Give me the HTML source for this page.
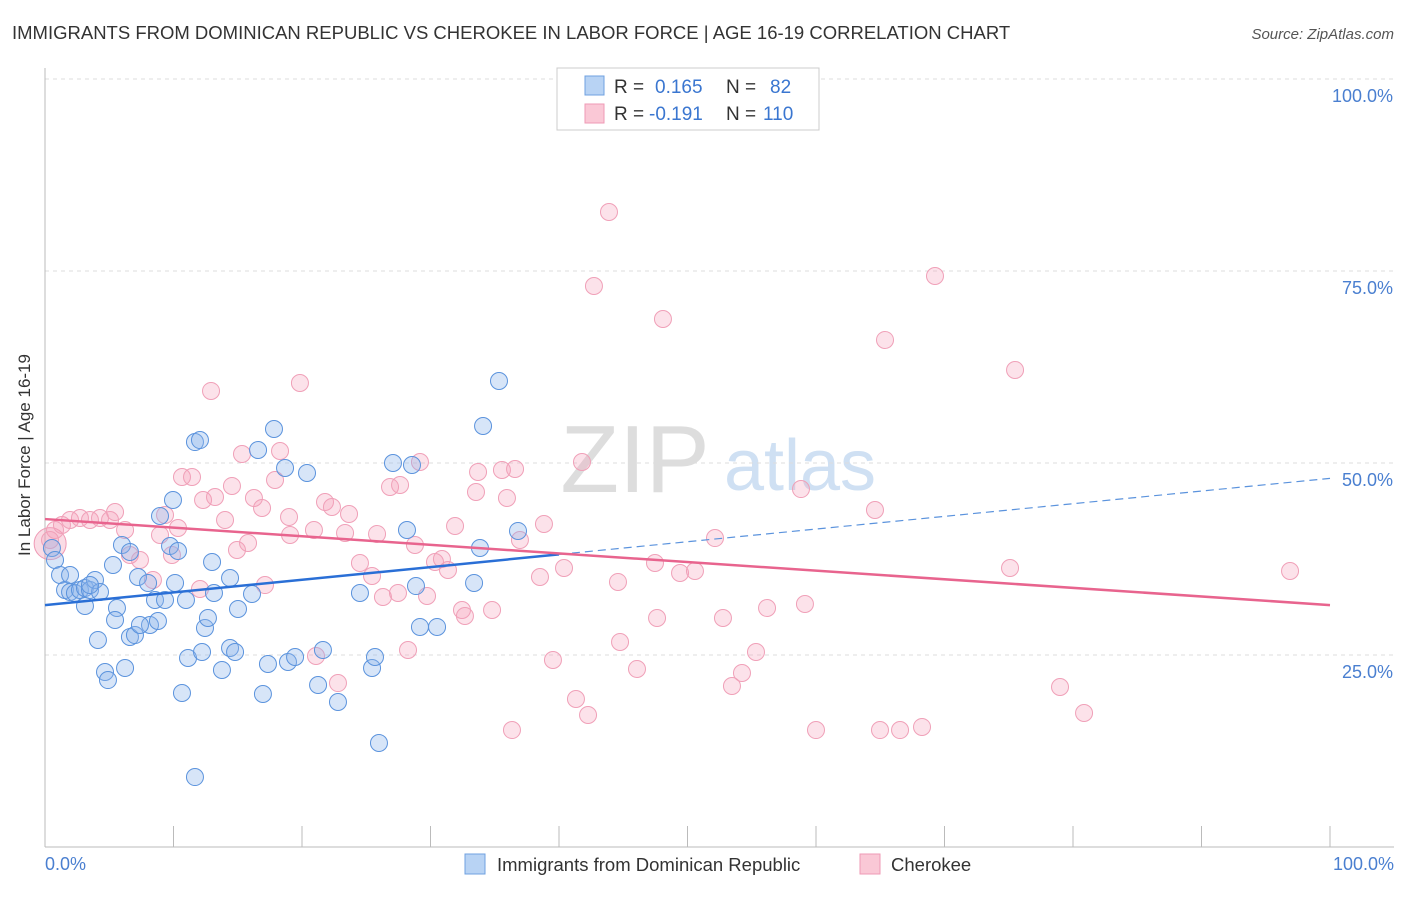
<!DOCTYPE html>
<html><head><meta charset="utf-8"><style>
body{margin:0;background:#fff;font-family:"Liberation Sans",sans-serif}
svg text{font-family:"Liberation Sans",sans-serif}
</style></head><body>
<svg id="c" width="1406" height="892">
<text x="12" y="39" font-size="18.5" fill="#333">IMMIGRANTS FROM DOMINICAN REPUBLIC VS CHEROKEE IN LABOR FORCE | AGE 16-19 CORRELATION CHART</text>
<text x="1394" y="39" font-size="15" fill="#555" font-style="italic" text-anchor="end">Source: ZipAtlas.com</text>
<text x="635" y="492" font-size="96" fill="#ddd" font-family="Liberation Serif" text-anchor="middle">ZIP</text>
<text x="800" y="490" font-size="72" fill="#cfe0f3" text-anchor="middle">atlas</text>
<g id="grid"></g><g id="pts"></g><g id="lines"></g>
<text x="30" y="455" font-size="17" fill="#333" text-anchor="middle" transform="rotate(-90 30 455)">In Labor Force | Age 16-19</text>
<text x="45" y="870" font-size="18" fill="#4a7fd0">0.0%</text>
<text x="1394" y="870" font-size="18" fill="#4a7fd0" text-anchor="end">100.0%</text>
<g>
<rect x="557" y="68" width="262" height="62" fill="#fff" stroke="#ccc"/>
<rect x="585" y="76" width="19" height="19" fill="#b8d3f4" stroke="#6fa0e0"/>
<rect x="585" y="104" width="19" height="19" fill="#fac8d6" stroke="#ef9ab5"/>
<text x="614" y="93" font-size="19" fill="#333">R =</text>
<text x="655" y="93" font-size="19" fill="#3a76d0">0.165</text>
<text x="726" y="93" font-size="19" fill="#333">N =</text>
<text x="770" y="93" font-size="19" fill="#3a76d0">82</text>
<text x="614" y="120" font-size="19" fill="#333">R =</text>
<text x="649" y="120" font-size="19" fill="#3a76d0">-0.191</text>
<text x="726" y="120" font-size="19" fill="#333">N =</text>
<text x="763" y="120" font-size="19" fill="#3a76d0">110</text>
</g>
<g>
<rect x="465" y="854" width="20" height="20" fill="#b8d3f4" stroke="#6fa0e0"/>
<text x="497" y="871" font-size="18.5" fill="#333">Immigrants from Dominican Republic</text>
<rect x="860" y="854" width="20" height="20" fill="#fac8d6" stroke="#ef9ab5"/>
<text x="891" y="871" font-size="18.5" fill="#333">Cherokee</text>
</g>
</svg>
<script>
const yTicks=[25,50,75,100];
const yTickLabels=["25.0%","50.0%","75.0%","100.0%"];
const bluePx=[[52,548],[55,560],[60,575],[65,590],[70,592],[75,593],[80,590],[85,588],[90,590],[95,580],[100,592],[85,606],[113,565],[117,608],[115,620],[122,545],[130,552],[98,640],[130,637],[135,635],[105,672],[108,680],[125,668],[138,577],[148,583],[150,625],[155,600],[158,621],[165,600],[160,516],[170,546],[173,500],[178,551],[175,583],[186,600],[182,693],[188,658],[195,442],[200,440],[202,652],[205,628],[208,618],[212,562],[214,593],[222,670],[230,578],[230,648],[235,652],[238,609],[252,594],[258,450],[263,694],[268,664],[274,429],[285,468],[288,662],[295,657],[307,473],[318,685],[323,650],[338,702],[360,593],[372,668],[375,657],[379,743],[393,463],[407,530],[412,465],[416,586],[420,627],[437,627],[480,548],[474,583],[483,426],[499,381],[518,531],[195,777],[70,575],[90,585],[140,625]];
const pinkPx=[[50,540],[55,530],[62,525],[70,520],[80,518],[90,520],[100,518],[110,520],[115,512],[125,530],[130,555],[140,560],[153,580],[160,535],[165,515],[172,555],[178,528],[182,477],[192,477],[200,589],[203,500],[211,391],[215,497],[225,520],[232,486],[237,550],[242,454],[248,543],[254,498],[262,508],[265,585],[275,480],[280,451],[289,517],[290,535],[300,383],[316,656],[314,530],[325,502],[332,507],[338,683],[345,533],[349,514],[360,563],[372,576],[377,534],[383,597],[390,487],[400,485],[398,593],[408,650],[415,545],[420,462],[427,596],[435,562],[442,559],[448,570],[455,526],[462,610],[465,616],[476,492],[478,472],[492,610],[502,470],[507,498],[515,469],[512,730],[520,540],[544,524],[540,577],[553,660],[564,568],[576,699],[582,462],[588,715],[594,286],[609,212],[618,582],[620,642],[637,669],[657,618],[655,563],[663,319],[680,573],[695,571],[715,538],[723,618],[732,686],[742,673],[756,652],[767,608],[801,489],[805,604],[816,730],[875,510],[880,730],[885,340],[900,730],[922,727],[935,276],[1010,568],[1015,370],[1060,687],[1084,713],[1290,571]];
const blueX=bluePx.map(p=>+((p[0]-45)/12.85).toFixed(2));
const blueY=bluePx.map(p=>+((847-p[1])/7.68).toFixed(2));
const pinkX=pinkPx.map(p=>+((p[0]-45)/12.85).toFixed(2));
const pinkY=pinkPx.map(p=>+((847-p[1])/7.68).toFixed(2));
const blueTrend=[31.5,38.1,48.0];
const pinkTrend=[42.7,31.5];
const X=v=>45+v*12.85, Y=v=>847-v*7.68;
const NS="http://www.w3.org/2000/svg";
function mk(t,a,p){const e=document.createElementNS(NS,t);for(const k in a)e.setAttribute(k,a[k]);p.appendChild(e);return e;}
const g=document.getElementById('grid');
yTicks.forEach((t,i)=>{
 const l=mk('line',{x1:45,x2:1394,y1:Y(t),y2:Y(t),stroke:'#ddd','stroke-dasharray':'4,4'},g);
 
 
 const tx=mk('text',{x:1393,y:Y(t)+23,'font-size':18,fill:'#4a7fd0','text-anchor':'end'},g);
 tx.textContent=yTickLabels[i];
 
 
});
const ax=mk('line',{x1:45,x2:45,y1:68,y2:847,stroke:'#bbb'},g);


const bx=mk('line',{x1:45,x2:1394,y1:847,y2:847,stroke:'#bbb'},g);


for(let i=1;i<=10;i++){const t=mk('line',{x1:X(i*10),x2:X(i*10),y1:826,y2:847,stroke:'#bbb'},g);
 
 }
const pg=document.getElementById('pts');
const big=mk('circle',{cx:X(0.4),cy:Y(39.5),r:16,fill:'rgba(240,140,170,0.3)',stroke:'#ef9ab5'},pg);


pinkX.forEach((x,i)=>{const c=mk('circle',{cx:X(x),cy:Y(pinkY[i]),r:8.5,fill:'rgba(245,160,185,0.3)',stroke:'#f0a0b8','stroke-width':1},pg);
 
 });
blueX.forEach((x,i)=>{const c=mk('circle',{cx:X(x),cy:Y(blueY[i]),r:8.5,fill:'rgba(140,180,235,0.35)',stroke:'#5b93dd','stroke-width':1},pg);
 
 });
const lg=document.getElementById('lines');
let l1=mk('line',{x1:X(0),y1:Y(blueTrend[0]),x2:X(40),y2:Y(blueTrend[1]),stroke:'#2a6fd6','stroke-width':2.5},lg);


let l2=mk('line',{x1:X(40),y1:Y(blueTrend[1]),x2:X(100),y2:Y(blueTrend[2]),stroke:'#5b93dd','stroke-width':1.2,'stroke-dasharray':'8,5'},lg);


let l3=mk('line',{x1:X(0),y1:Y(pinkTrend[0]),x2:X(100),y2:Y(pinkTrend[1]),stroke:'#e8648e','stroke-width':2.5},lg);


</script>
</body></html>
